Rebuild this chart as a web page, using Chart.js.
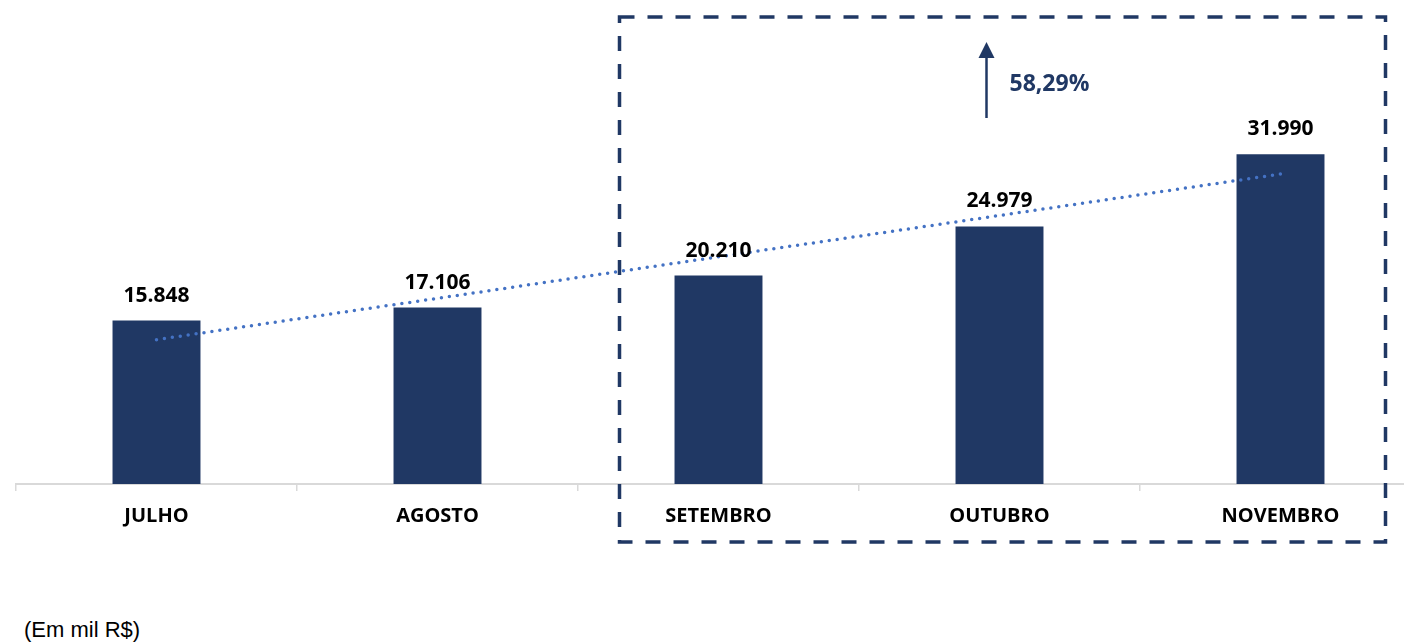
<!DOCTYPE html>
<html lang="pt-BR">
<head>
<meta charset="utf-8">
<title>Faturamento mensal</title>
<script src="https://cdn.jsdelivr.net/npm/chart.js@4.4.1/dist/chart.umd.min.js"></script>
<style>
  html, body { margin: 0; padding: 0; background: #fff; overflow: hidden; }
  #wrap { position: relative; width: 1404px; height: 643px; overflow: hidden; }
  #grafico { position: absolute; left: 0; top: 0; }
  #nota { position: absolute; left: 24px; top: 617px; font-family: "Liberation Sans", Arial, sans-serif; font-size: 22px; color: #000; }
</style>
</head>
<body>
<div id="wrap">
  <canvas id="grafico" width="1430" height="545"></canvas>
  <div id="nota">(Em mil R$)</div>
</div>
<script>
// dados do gráfico (em mil R$)
const meses = ['JULHO', 'AGOSTO', 'SETEMBRO', 'OUTUBRO', 'NOVEMBRO'];
const valores = [15848, 17106, 20210, 24979, 31990];
// linha de tendência
const tendencia = [14000, 18010, 22030, 26040, 30060];
const variacao = '58,29%';
const eixoMax = 45000;

const azulEscuro = '#203864';
const azulTendencia = '#4472C4';
const fonte = '"Open Sans", Lato, sans-serif';

function formatar(v) {
    return String(v).replace(/\B(?=(\d{3})+(?!\d))/g, '.');
}

// rótulos em cima das barras
const rotulos = {
    id: 'rotulos',
    afterDatasetsDraw(chart) {
        const ctx = chart.ctx;
        const meta = chart.getDatasetMeta(1);
        ctx.save();
        ctx.font = 'bold 21px ' + fonte;
        ctx.fillStyle = '#000';
        ctx.textAlign = 'center';
        ctx.textBaseline = 'middle';
        meta.data.forEach((bar, i) => {
            ctx.fillText(formatar(valores[i]), bar.x, bar.y - 25);
        });
        ctx.restore();
    }
};

// caixa tracejada + seta com a variação
const destaque = {
    id: 'destaque',
    afterDraw(chart) {
        const ctx = chart.ctx;
        const x = chart.scales.x;
        const esq = x.getPixelForValue(2) - 99;
        const dir = x.getPixelForValue(4) + 105;
        ctx.save();
        ctx.strokeStyle = azulEscuro;
        ctx.lineWidth = 3.5;
        ctx.setLineDash([15, 13]);
        ctx.strokeRect(esq, 17, dir - esq, 525);
        ctx.setLineDash([]);

        const sx = x.getPixelForValue(3) - 13;
        ctx.lineWidth = 2.5;
        ctx.beginPath();
        ctx.moveTo(sx, 118);
        ctx.lineTo(sx, 56);
        ctx.stroke();
        ctx.fillStyle = azulEscuro;
        ctx.beginPath();
        ctx.moveTo(sx, 42);
        ctx.lineTo(sx - 8, 58);
        ctx.lineTo(sx + 8, 58);
        ctx.closePath();
        ctx.fill();

        ctx.font = 'bold 23px ' + fonte;
        ctx.textAlign = 'left';
        ctx.textBaseline = 'middle';
        ctx.fillText(variacao, sx + 23, 84);
        ctx.restore();
    }
};

const ctx = document.getElementById('grafico').getContext('2d');
const grafico = new Chart(ctx, {
    type: 'bar',
    data: {
        labels: meses,
        datasets: [
            {
                type: 'line',
                data: tendencia,
                borderColor: azulTendencia,
                borderWidth: 3.5,
                borderDash: [0, 8],
                borderCapStyle: 'round',
                pointRadius: 0,
                fill: false,
                order: 0
            },
            {
                data: valores,
                backgroundColor: azulEscuro,
                categoryPercentage: 1,
                barPercentage: 0.313,
                order: 1
            }
        ]
    },
    options: {
        responsive: false,
        animation: false,
        layout: { padding: { left: 16, right: 9, top: 20, bottom: 0 } },
        plugins: {
            legend: { display: false },
            tooltip: { enabled: false }
        },
        scales: {
            x: {
                offset: true,
                grid: {
                    offset: true,
                    drawOnChartArea: false,
                    drawTicks: true,
                    tickLength: 7,
                    color: '#d9d9d9',
                    lineWidth: 1.5
                },
                border: { display: true, color: '#d9d9d9', width: 2 },
                ticks: {
                    color: '#000',
                    padding: 13,
                    font: { family: fonte, weight: 'bold', size: 20 }
                },
                afterFit(scale) { scale.height = 61; }
            },
            y: {
                display: false,
                min: 0,
                max: eixoMax
            }
        }
    },
    plugins: [rotulos, destaque]
});
</script>
</body>
</html>
